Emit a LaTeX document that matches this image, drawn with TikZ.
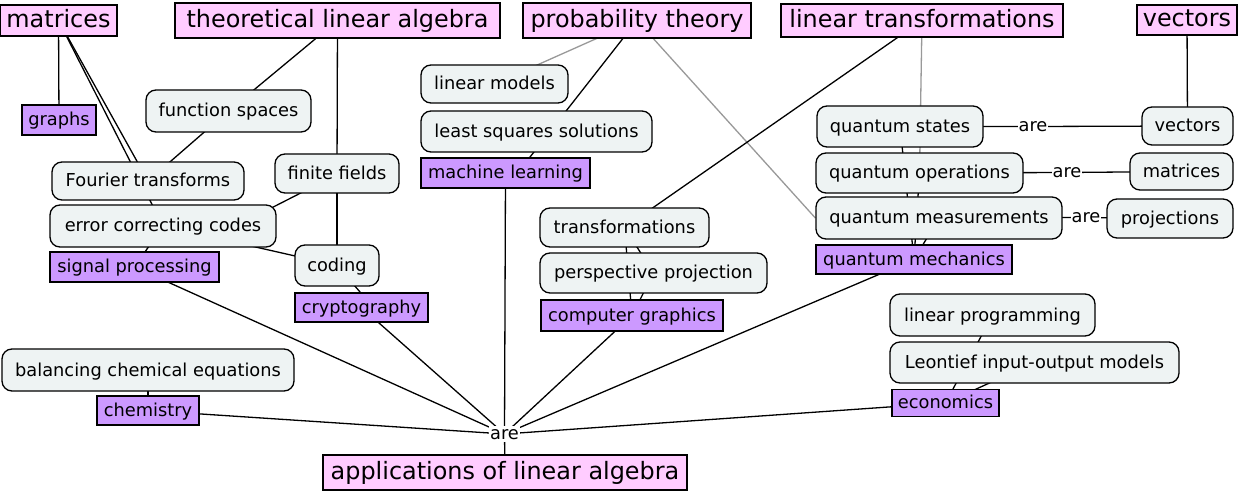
\documentclass[tikz,border=0pt]{standalone}
\usepackage{fontspec}
\setmainfont{DejaVu Sans}
\usetikzlibrary{backgrounds}
\definecolor{toppink}{HTML}{FFCCFF}
\definecolor{apppurple}{HTML}{CC99FF}
\definecolor{subfill}{HTML}{EEF3F3}
\definecolor{lgray}{HTML}{999999}
\begin{document}
\begin{tikzpicture}[x=1pt,y=-1pt,
  base/.style={draw=black, line width=1.3pt, inner sep=0pt, align=center},
  topbox/.style={base, fill=toppink, font=\fontsize{23.9}{28}\selectfont, text height=17pt, text depth=3pt},
  subbox/.style={base, fill=subfill, rounded corners=10pt, font=\fontsize{17.8}{21}\selectfont, text height=14pt, text depth=2pt},
  appbox/.style={base, fill=apppurple, font=\fontsize{17.8}{21}\selectfont, text height=13.5pt, text depth=2pt},
  linkword/.style={fill=white, inner sep=1pt, font=\fontsize{17.8}{21}\selectfont, text height=12pt, text depth=2pt},
  conn/.style={line width=1.3pt, black},
  gconn/.style={line width=1.3pt, lgray},
  sz/.style 2 args={minimum width=#1pt, minimum height=#2pt},
]
\useasboundingbox (0,0) rectangle (1242,494);

% top-level concepts
\node[topbox, sz={117}{31}] (mat) at (58.5,20.5) {matrices};
\node[topbox, sz={325}{35}] (tla) at (337.5,20.5) {theoretical linear algebra};
\node[topbox, sz={228}{35}] (prob) at (637,20.5) {probability theory};
\node[topbox, sz={282}{33}] (lintr) at (922,20.5) {linear transformations};
\node[topbox, sz={100}{30}] (vec) at (1187,20) {vectors};
\node[topbox, sz={364}{35}] (apps) at (505,472.5) {applications of linear algebra};

% sub concepts
\node[subbox, sz={165}{42}] (fs) at (228.5,111) {function spaces};
\node[subbox, sz={192}{38}] (ft) at (148,181) {Fourier transforms};
\node[subbox, sz={226}{42}] (ecc) at (163,226) {error correcting codes};
\node[subbox, sz={124}{39}] (ff) at (337,173.5) {finite fields};
\node[subbox, sz={84}{41}] (coding) at (337,265.5) {coding};
\node[subbox, sz={292}{42}] (bce) at (148,370) {balancing chemical equations};
\node[subbox, sz={147}{38}] (lm) at (494.5,84) {linear models};
\node[subbox, sz={231}{41}] (lss) at (536.5,131.5) {least squares solutions};
\node[subbox, sz={169}{39}] (trans) at (624.5,227.5) {transformations};
\node[subbox, sz={227}{40}] (pp) at (653.5,273) {perspective projection};
\node[subbox, sz={166}{41}] (qs) at (900,126.5) {quantum states};
\node[subbox, sz={207}{40}] (qo) at (919.5,173) {quantum operations};
\node[subbox, sz={246}{42}] (qm) at (939,218) {quantum measurements};
\node[subbox, sz={91}{38}] (vsub) at (1187.5,126) {vectors};
\node[subbox, sz={103}{37}] (msub) at (1181.5,171.5) {matrices};
\node[subbox, sz={126}{39}] (proj) at (1170,218.5) {projections};
\node[subbox, sz={205}{42}] (lp) at (992.5,315) {linear programming};
\node[subbox, sz={289}{41}] (leon) at (1034.5,362.5) {Leontief input-output models};

% application areas
\node[appbox, sz={74}{30}] (graphs) at (59,120) {graphs};
\node[appbox, sz={169}{30}] (sp) at (134.5,267) {signal processing};
\node[appbox, sz={133}{29}] (crypto) at (361.5,307.5) {cryptography};
\node[appbox, sz={102}{29}] (chem) at (148,410.5) {chemistry};
\node[appbox, sz={169}{30}] (ml) at (505.5,173) {machine learning};
\node[appbox, sz={182}{31}] (cg) at (632,315.5) {computer graphics};
\node[appbox, sz={196}{29}] (qmech) at (914,259.5) {quantum mechanics};
\node[appbox, sz={107}{27}] (econ) at (945.5,403) {economics};

% linking words
\node[linkword] (are) at (504.5,434) {are};
\node[linkword] (are1) at (1033,126.5) {are};
\node[linkword] (are2) at (1067,172.5) {are};
\node[linkword] (are3) at (1086,217.5) {are};

\begin{scope}[on background layer]
\fill[white] (0,0) rectangle (1242,494);
% gray links
\draw[gconn] (prob.center) -- (lm.center);
\draw[gconn] (prob.center) -- (qm.west);
\draw[gconn] (lintr.center) -- (qo.center);
% black links
\draw[conn] (mat.center) -- (graphs.center);
\draw[conn] (mat.center) -- (ft.center);
\draw[conn] (mat.center) -- (ecc.center);
\draw[conn] (tla.center) -- (fs.center);
\draw[conn] (fs.center) -- (ft.center);
\draw[conn] (tla.center) -- (ff.center);
\draw[conn] (ff.center) -- (coding.center);
\draw[conn] ([xshift=2pt]ff.center) -- ([xshift=73pt]ecc.center);
\draw[conn] (ecc.center) -- (sp.center);
\draw[conn] (ecc.center) -- (coding.center);
\draw[conn] (coding.center) -- ([xshift=12pt]crypto.center);
\draw[conn] (sp.center) -- (are.center);
\draw[conn] (crypto.center) -- (are.center);
\draw[conn] (chem.center) -- (are.center);
\draw[conn] (bce.center) -- (chem.center);
\draw[conn] (ml.center) -- (are.center);
\draw[conn] (prob.center) -- ([xshift=12pt]ml.center);
\draw[conn] (lintr.center) -- (trans.center);
\draw[conn] (trans.center) -- (pp.center);
\draw[conn] (trans.center) -- (cg.center);
\draw[conn] (pp.center) -- (cg.center);
\draw[conn] (cg.center) -- (are.center);
\draw[conn] (qs.center) -- (qmech.center);
\draw[conn] (qo.center) -- (qmech.center);
\draw[conn] (qm.center) -- (qmech.center);
\draw[conn] (qmech.center) -- (are.center);
\draw[conn] (vec.center) -- (vsub.center);
\draw[conn] (qs.center) -- (are1.center) -- (vsub.center);
\draw[conn] (qo.center) -- (are2.center) -- (msub.center);
\draw[conn] (qm.center) -- (are3.center) -- (proj.center);
\draw[conn] (lp.center) -- (econ.center);
\draw[conn] (leon.center) -- (econ.center);
\draw[conn] (econ.center) -- (are.center);
\draw[conn] (are.center) -- (apps.center);
\end{scope}
\end{tikzpicture}
\end{document}
